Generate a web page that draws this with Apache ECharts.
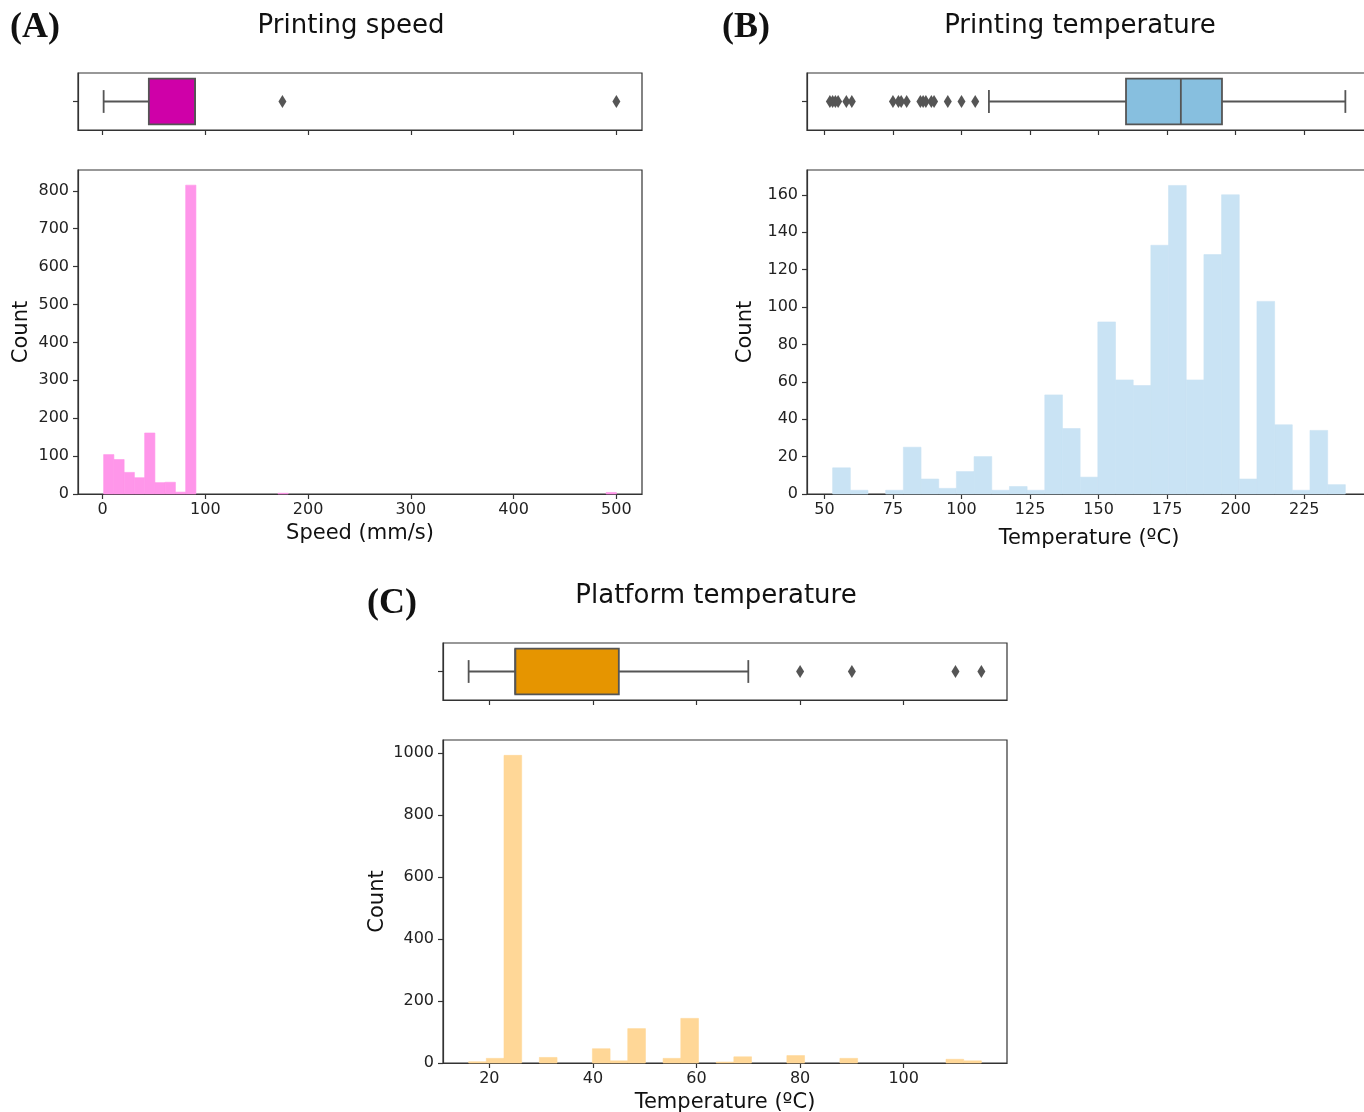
<!DOCTYPE html>
<html>
<head>
<meta charset="utf-8">
<title>Printing parameters</title>
<script src="https://cdn.jsdelivr.net/npm/echarts@6/dist/echarts.min.js"></script>
<style>
html, body { margin: 0; padding: 0; background: #fff; }
#chart { width: 1364px; height: 1112px; }
</style>
</head>
<body>
<div id="chart"></div>
<script>
// (A) printing speed, 50 bins between 1 and 500 mm/s
const speedBinStart = 1
const speedBinWidth = 9.98
const speedCounts = [
  104, 91, 57, 43, 161, 30, 31, 5, 815, 0,
  0, 0, 0, 0, 0, 0, 0, 2, 0, 0,
  0, 0, 0, 0, 0, 0, 0, 0, 0, 0,
  0, 0, 0, 0, 0, 0, 0, 0, 0, 0,
  0, 0, 0, 0, 0, 0, 0, 0, 0, 4
]
const speedBox = [1, 45, 90, 90, 90] // min, q1, median, q3, max
const speedOutliers = [175, 500]
const speedTicks = [0, 100, 200, 300, 400, 500]
const speedCountTicks = [0, 100, 200, 300, 400, 500, 600, 700, 800]

// (B) printing temperature, 29 bins between 53 and 240
const printTempBinStart = 53
const printTempBinWidth = 6.448
const printTempCounts = [
  14, 2, 0, 2, 25, 8, 3, 12, 20, 2,
  4, 2, 53, 35, 9, 92, 61, 58, 133, 165,
  61, 128, 160, 8, 103, 37, 2, 34, 5
]
const printTempBox = [110, 160, 180, 195, 240]
const printTempOutliers = [52, 53, 54, 55, 58, 60, 75, 77, 78, 80, 85, 86, 87, 89, 90, 95, 100, 105]
const printTempTicks = [50, 75, 100, 125, 150, 175, 200, 225]
const printTempCountTicks = [0, 20, 40, 60, 80, 100, 120, 140, 160]

// (C) platform temperature, 29 bins between 16 and 115
const platTempBinStart = 16
const platTempBinWidth = 3.4138
const platTempCounts = [
  4, 15, 993, 0, 18, 0, 0, 46, 7, 111,
  0, 15, 144, 0, 3, 20, 0, 0, 24, 0,
  0, 15, 0, 0, 0, 0, 0, 12, 7
]
const platTempBox = [16, 25, 25, 45, 70]
const platTempOutliers = [80, 90, 110, 115]
const platTempTicks = [20, 40, 60, 80, 100]
const platTempCountTicks = [0, 200, 400, 600, 800, 1000]

const FONT = 'DejaVu Sans'
const EDGE = '#555555'
const FRAME = '#333333'

function binData (start, width, counts) {
  const out = []
  counts.forEach((c, i) => {
    if (c > 0) out.push([start + i * width, start + (i + 1) * width, c])
  })
  return out
}

function binRenderer (color) {
  return function (params, api) {
    const p0 = api.coord([api.value(0), 0])
    const p1 = api.coord([api.value(1), api.value(2)])
    return {
      type: 'rect',
      shape: { x: p0[0], y: p1[1], width: p1[0] - p0[0], height: p0[1] - p1[1] },
      style: { fill: color, stroke: color, lineWidth: 0.6 }
    }
  }
}

function boxRenderer (fill) {
  return function (params, api) {
    const x = v => api.coord([v, 0])[0]
    const y = api.coord([api.value(2), 0])[1]
    const band = api.size([0, 1])[1]
    const half = band * 0.4
    const cap = band * 0.2
    const lo = api.value(0), q1 = api.value(1), med = api.value(2), q3 = api.value(3), hi = api.value(4)
    const line = { stroke: EDGE, lineWidth: 1.8 }
    return {
      type: 'group',
      children: [
        { type: 'line', shape: { x1: x(lo), y1: y, x2: x(q1), y2: y }, style: line },
        { type: 'line', shape: { x1: x(q3), y1: y, x2: x(hi), y2: y }, style: line },
        { type: 'line', shape: { x1: x(lo), y1: y - cap, x2: x(lo), y2: y + cap }, style: line },
        { type: 'line', shape: { x1: x(hi), y1: y - cap, x2: x(hi), y2: y + cap }, style: line },
        {
          type: 'rect',
          shape: { x: x(q1), y: y - half, width: x(q3) - x(q1), height: 2 * half },
          style: { fill: fill, stroke: EDGE, lineWidth: 1.8 }
        },
        { type: 'line', shape: { x1: x(med), y1: y - half, x2: x(med), y2: y + half }, style: line }
      ]
    }
  }
}

function grid (left, top, width, height) {
  return {
    left: left, top: top, width: width, height: height,
    show: true, borderColor: FRAME, borderWidth: 1.2,
    backgroundColor: 'transparent', outerBoundsMode: 'none'
  }
}

function xAxis (gridIndex, min, max, ticks, labels, name, nameGap) {
  return {
    type: 'value', gridIndex: gridIndex, min: min, max: max,
    name: name || '', nameLocation: 'middle', nameGap: nameGap || 0,
    nameTextStyle: { fontFamily: FONT, fontSize: 21, color: '#111' },
    axisLine: { show: true, onZero: false, lineStyle: { color: FRAME, width: 1.2 } },
    axisTick: { show: true, length: 5, customValues: ticks, lineStyle: { color: FRAME, width: 1.2 } },
    axisLabel: { show: labels, customValues: ticks, margin: 8, fontFamily: FONT, fontSize: 16, color: '#222' },
    splitLine: { show: false }
  }
}

function countAxis (gridIndex, max, ticks, nameGap) {
  return {
    type: 'value', gridIndex: gridIndex, min: 0, max: max,
    name: 'Count', nameLocation: 'middle', nameGap: nameGap, nameRotate: 90,
    nameTextStyle: { fontFamily: FONT, fontSize: 21, color: '#111' },
    axisLine: { show: true, onZero: false, lineStyle: { color: FRAME, width: 1.2 } },
    axisTick: { show: true, length: 5, customValues: ticks, lineStyle: { color: FRAME, width: 1.2 } },
    axisLabel: {
      customValues: ticks, margin: 9, fontFamily: FONT, fontSize: 16, color: '#222',
      formatter: v => String(v)
    },
    splitLine: { show: false }
  }
}

function boxYAxis (gridIndex) {
  return {
    type: 'category', gridIndex: gridIndex, data: [''],
    axisLine: { show: true, onZero: false, lineStyle: { color: FRAME, width: 1.2 } },
    axisTick: { show: true, length: 5, alignWithLabel: true, lineStyle: { color: FRAME, width: 1.2 } },
    axisLabel: { show: false },
    splitLine: { show: false }
  }
}

function boxSeries (idx, stats, fill) {
  return {
    type: 'custom', xAxisIndex: idx, yAxisIndex: idx,
    renderItem: boxRenderer(fill),
    encode: { x: [0, 1, 2, 3, 4], y: 5 },
    data: [stats.concat([0])],
    silent: true, z: 3
  }
}

function outlierSeries (idx, values) {
  return {
    type: 'scatter', xAxisIndex: idx, yAxisIndex: idx,
    symbol: 'diamond', symbolSize: [8, 13],
    itemStyle: { color: EDGE, opacity: 1 },
    data: values.map(v => [v, 0]),
    silent: true, z: 4
  }
}

function histSeries (idx, data, color) {
  return {
    type: 'custom', xAxisIndex: idx, yAxisIndex: idx,
    renderItem: binRenderer(color),
    encode: { x: [0, 1], y: 2 },
    data: data,
    silent: true
  }
}

function text (x, y, str, size, align, serif) {
  return {
    type: 'text', x: x, y: y,
    style: {
      text: str, fill: '#111', align: align, verticalAlign: 'middle',
      font: (serif ? 'bold ' : '') + size + 'px ' + (serif ? '"Liberation Serif", "Times New Roman", serif' : '"DejaVu Sans", sans-serif')
    }
  }
}

const myChart = echarts.init(document.getElementById('chart'), null, { renderer: 'canvas' })

const option = {
  animation: false,
  backgroundColor: '#ffffff',
  grid: [
    grid(78, 73, 564, 57),
    grid(78, 170, 564, 324),
    grid(807, 73, 564, 57),
    grid(807, 170, 564, 324),
    grid(443, 643, 564, 57),
    grid(443, 740, 564, 323)
  ],
  xAxis: [
    xAxis(0, -23.95, 524.95, speedTicks, false),
    xAxis(1, -23.95, 524.95, speedTicks, true, 'Speed (mm/s)', 29),
    xAxis(2, 43.65, 249.35, printTempTicks, false),
    xAxis(3, 43.65, 249.35, printTempTicks, true, 'Temperature (ºC)', 34),
    xAxis(4, 11.05, 119.95, platTempTicks, false),
    xAxis(5, 11.05, 119.95, platTempTicks, true, 'Temperature (ºC)', 29)
  ],
  yAxis: [
    boxYAxis(0),
    countAxis(1, 855, speedCountTicks, 46),
    boxYAxis(2),
    countAxis(3, 173.25, printTempCountTicks, 51),
    boxYAxis(4),
    countAxis(5, 1042.6, platTempCountTicks, 55)
  ],
  series: [
    boxSeries(0, speedBox, '#CF00A8'),
    outlierSeries(0, speedOutliers),
    histSeries(1, binData(speedBinStart, speedBinWidth, speedCounts), '#FF96EA'),
    boxSeries(2, printTempBox, '#87BFDF'),
    outlierSeries(2, printTempOutliers),
    histSeries(3, binData(printTempBinStart, printTempBinWidth, printTempCounts), '#C9E3F4'),
    boxSeries(4, platTempBox, '#E69500'),
    outlierSeries(4, platTempOutliers),
    histSeries(5, binData(platTempBinStart, platTempBinWidth, platTempCounts), '#FFD797')
  ],
  graphic: [
    text(10, 28, '(A)', 36, 'left', true),
    text(351, 26, 'Printing speed', 26, 'center'),
    text(722, 28, '(B)', 36, 'left', true),
    text(1080, 26, 'Printing temperature', 26, 'center'),
    text(367, 604, '(C)', 36, 'left', true),
    text(716, 596, 'Platform temperature', 26, 'center')
  ]
}

myChart.setOption(option)
window.addEventListener('resize', () => myChart.resize())
</script>
</body>
</html>
